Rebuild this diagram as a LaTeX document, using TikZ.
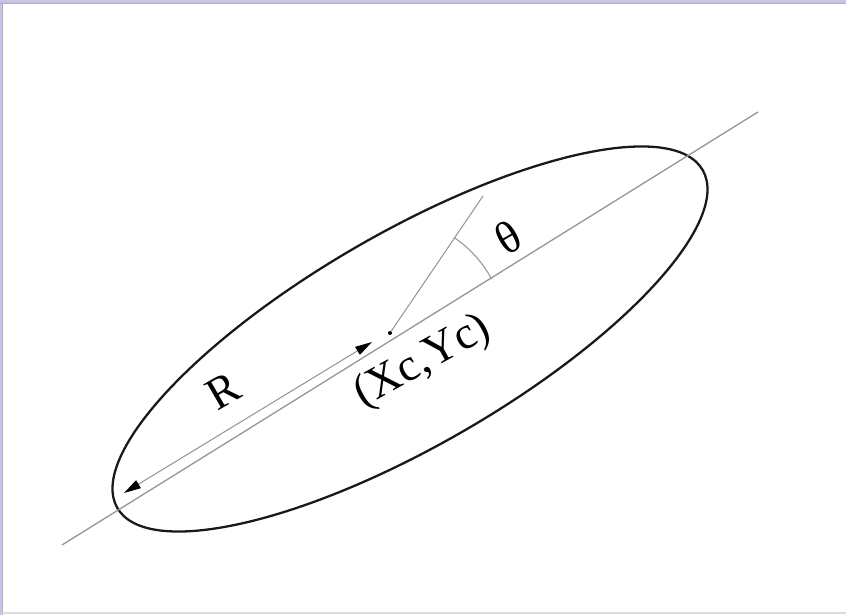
\documentclass[tikz,border=0pt]{standalone}
\usepackage{fontspec}
\setmainfont{Liberation Serif}
\usetikzlibrary{arrows.meta}
\definecolor{axisgray}{RGB}{150,150,150}
\definecolor{framelav}{RGB}{198,196,234}
\definecolor{framegray}{RGB}{176,176,180}
\tikzset{
  outline/.style={draw=black!90, line width=1.3pt},
  axisline/.style={draw=axisgray, line width=0.75pt},
  thinline/.style={draw=axisgray, line width=0.6pt},
  rarrow/.style={thinline, {Triangle[length=3.4mm, width=1.8mm, color=black]}-{Triangle[length=3.4mm, width=1.8mm, color=black]}},
  centredot/.style={circle, fill=black, inner sep=0pt, minimum size=0.8mm},
  lbl/.style={font=\fontsize{26}{30}\selectfont, inner sep=0pt},
}

\begin{document}
\begin{tikzpicture}[x=0.02cm, y=-0.02cm]
\useasboundingbox (0,0) rectangle (846,615);

% ---------------- window frame ----------------
\fill[framelav] (0,0) rectangle (846,3);
\fill[framelav] (0,0) rectangle (2,615);
\draw[framegray, line width=0.5pt] (0,3.5) -- (846,3.5);
\draw[framegray, line width=0.5pt] (2.5,3.5) -- (2.5,615);
\draw[framegray!45, line width=0.6pt] (2.5,613) -- (846,613);

% ---------------- ellipse and its axis ----------------
\draw[outline, rotate around={30:(410,339)}] (410,339) ellipse [x radius=6.76cm, y radius=2.13cm];

\coordinate (ax1) at (62,545);
\coordinate (ax2) at (758,112);
\draw[axisline] (ax1) -- (ax2);

% centre point and the tilted reference line
\node[centredot] (c) at (390,333) {};
\coordinate (ref) at (483,196);
\draw[thinline] (c) -- (ref);

% angle between the two lines
\draw[thinline] (c) ++(28:2.3cm) arc[start angle=28, end angle=56, radius=2.3cm];

% radius arrow, just above the axis
\coordinate (r1) at (124,493);
\coordinate (r2) at (372,342);
\draw[rarrow] (r1) -- (r2);

% ---------------- labels ----------------
\node[lbl, rotate=30] (theta) at (508,237) {θ};
\node[lbl, rotate=29] (xy) at (423,362) {(Xc,Yc)};
\node[lbl, rotate=30] (rlab) at (223,391) {R};
\end{tikzpicture}
\end{document}
